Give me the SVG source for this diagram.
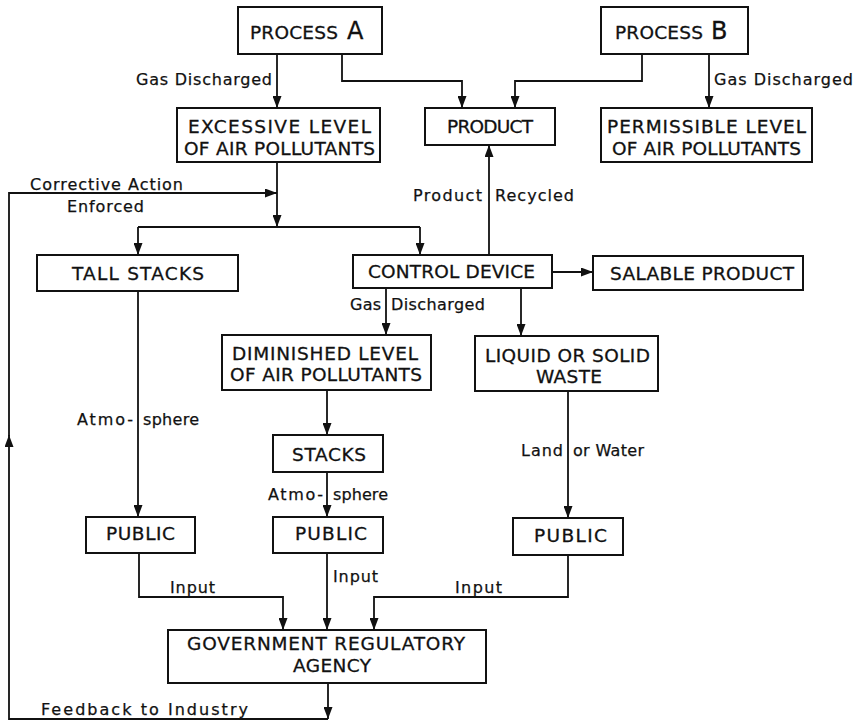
<svg xmlns="http://www.w3.org/2000/svg" width="860" height="722" viewBox="0 0 860 722">
<style>
.box{fill:#fff;stroke:#111;stroke-width:2}
.bt{font-family:"DejaVu Sans","Liberation Sans",sans-serif;font-size:18.5px;fill:#111;stroke:#111;stroke-width:0.3}
.lb{font-family:"DejaVu Sans","Liberation Sans",sans-serif;font-size:16px;fill:#111;stroke:#111;stroke-width:0.25}
.c{fill:none;stroke:#111;stroke-width:1.8}
.c.a{marker-end:url(#arr)}
</style>
<defs>
<marker id="arr" markerUnits="userSpaceOnUse" markerWidth="12" markerHeight="9" refX="12" refY="4.5" orient="auto">
<path d="M0,0 L12,4.5 L0,9 z" fill="#111"/>
</marker>
</defs>
<rect width="860" height="722" fill="#fff"/>
<g id="connectors">
<path class="c a" d="M277,54 V108"/>
<path class="c a" d="M342,54 V81 H462 V108"/>
<path class="c a" d="M642,54 V81 H515 V108"/>
<path class="c a" d="M709,54 V108"/>
<path class="c a" d="M277,162 V227"/>
<path class="c" d="M138,227 H420"/>
<path class="c a" d="M138,227 V255"/>
<path class="c a" d="M420,227 V255"/>
<path class="c a" d="M489,255 V145"/>
<path class="c a" d="M552,272 H593"/>
<path class="c a" d="M386,288 V335"/>
<path class="c a" d="M521,288 V336"/>
<path class="c a" d="M327,390 V435"/>
<path class="c a" d="M138,291 V517"/>
<path class="c a" d="M327,472 V517"/>
<path class="c a" d="M568,391 V518"/>
<path class="c a" d="M139,553 V597 H283 V630"/>
<path class="c a" d="M327,553 V630"/>
<path class="c a" d="M568,555 V597 H374 V630"/>
<path class="c a" d="M328,683 V719"/>
<path class="c a" d="M328,719 H9 V435"/>
<path class="c a" d="M9,436 V193 H277"/>
<text class="lb" x="136" y="85" textLength="136">Gas Discharged</text>
<text class="lb" x="714" y="85" textLength="139">Gas Discharged</text>
<text class="lb" x="30" y="190" textLength="153">Corrective Action</text>
<text class="lb" x="67" y="212" textLength="77">Enforced</text>
<text class="lb" x="413" y="201" textLength="69">Product</text>
<text class="lb" x="495" y="201" textLength="79">Recycled</text>
<text class="lb" x="350" y="310" textLength="31">Gas</text>
<text class="lb" x="391" y="310" textLength="94">Discharged</text>
<text class="lb" x="77" y="425" textLength="56">Atmo-</text>
<text class="lb" x="143" y="425" textLength="56">sphere</text>
<text class="lb" x="521" y="456" textLength="42">Land</text>
<text class="lb" x="573" y="456" textLength="71">or Water</text>
<text class="lb" x="268" y="500" textLength="55">Atmo-</text>
<text class="lb" x="333" y="500" textLength="55">sphere</text>
<text class="lb" x="170" y="593" textLength="45">Input</text>
<text class="lb" x="333" y="582" textLength="45">Input</text>
<text class="lb" x="455" y="593" textLength="47">Input</text>
<text class="lb" x="41" y="715" textLength="207">Feedback to Industry</text>
</g>
<g id="process-a"><rect class="box" x="238" y="7" width="144" height="47"/><text class="bt" x="250" y="39" textLength="88">PROCESS</text><text class="bt" x="347" y="39" style="font-size:24px">A</text></g>
<g id="process-b"><rect class="box" x="601" y="7" width="147" height="47"/><text class="bt" x="615" y="39" textLength="88">PROCESS</text><text class="bt" x="711" y="39" style="font-size:24px">B</text></g>
<g id="excessive"><rect class="box" x="177" y="108" width="203" height="54"/><text class="bt" x="188" y="133" textLength="183">EXCESSIVE LEVEL</text><text class="bt" x="184" y="155" textLength="191">OF AIR POLLUTANTS</text></g>
<g id="product"><rect class="box" x="425" y="108" width="130" height="37"/><text class="bt" x="447" y="133" textLength="86">PRODUCT</text></g>
<g id="permissible"><rect class="box" x="601" y="108" width="211" height="54"/><text class="bt" x="607" y="133" textLength="199">PERMISSIBLE LEVEL</text><text class="bt" x="612" y="155" textLength="189">OF AIR POLLUTANTS</text></g>
<g id="tall-stacks"><rect class="box" x="37" y="255" width="201" height="36"/><text class="bt" x="72" y="280" textLength="132">TALL STACKS</text></g>
<g id="control-device"><rect class="box" x="353" y="255" width="199" height="33"/><text class="bt" x="368" y="278" textLength="167">CONTROL DEVICE</text></g>
<g id="salable-product"><rect class="box" x="593" y="256" width="210" height="34"/><text class="bt" x="610" y="280" textLength="184">SALABLE PRODUCT</text></g>
<g id="diminished"><rect class="box" x="222" y="335" width="209" height="55"/><text class="bt" x="232" y="360" textLength="186">DIMINISHED LEVEL</text><text class="bt" x="230" y="381" textLength="192">OF AIR POLLUTANTS</text></g>
<g id="waste"><rect class="box" x="475" y="336" width="183" height="55"/><text class="bt" x="485" y="362" textLength="165">LIQUID OR SOLID</text><text class="bt" x="536" y="383" textLength="66">WASTE</text></g>
<g id="stacks"><rect class="box" x="273" y="435" width="110" height="37"/><text class="bt" x="292" y="461" textLength="74">STACKS</text></g>
<g id="public-left"><rect class="box" x="86" y="517" width="109" height="36"/><text class="bt" x="106" y="540" textLength="69">PUBLIC</text></g>
<g id="public-mid"><rect class="box" x="273" y="517" width="110" height="36"/><text class="bt" x="295" y="540" textLength="72">PUBLIC</text></g>
<g id="public-right"><rect class="box" x="513" y="518" width="110" height="37"/><text class="bt" x="534" y="542" textLength="73">PUBLIC</text></g>
<g id="government"><rect class="box" x="168" y="630" width="318" height="53"/><text class="bt" x="187" y="650" textLength="278">GOVERNMENT REGULATORY</text><text class="bt" x="293" y="672" textLength="78">AGENCY</text></g>
</svg>
